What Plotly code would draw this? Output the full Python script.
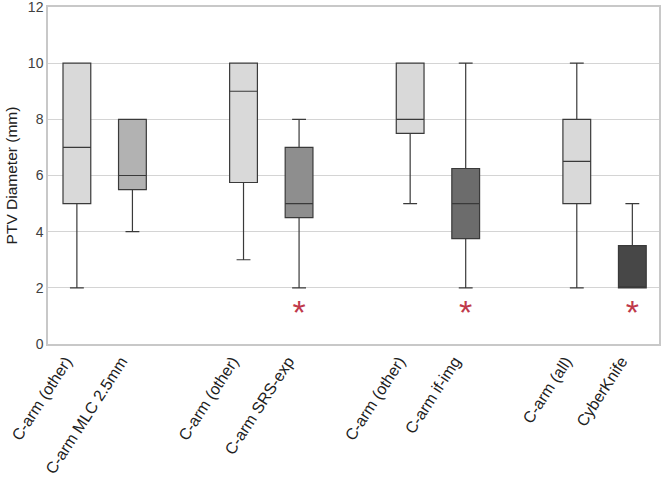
import plotly.graph_objects as go

categories = ["C-arm (other)", "C-arm MLC 2.5mm", "C-arm (other)", "C-arm SRS-exp",
              "C-arm (other)", "C-arm if-img", "C-arm (all)", "CyberKnife"]
positions = [0, 1, 3, 4, 6, 7, 9, 10]
lower = [2, 4, 3, 2, 5, 2, 2, 2]
q1 = [5, 5.5, 5.75, 4.5, 7.5, 3.75, 5, 2]
median = [7, 6, 9, 5, 8, 5, 6.5, 2]
q3 = [10, 8, 10, 7, 10, 6.25, 8, 3.5]
upper = [10, 8, 10, 8, 10, 10, 10, 5]
fills = ["#d9d9d9", "#b2b2b2", "#d9d9d9", "#8e8e8e", "#d9d9d9", "#6c6c6c", "#d9d9d9", "#474747"]
star_positions = [4, 7, 10]
star_y = [1.0, 1.0, 1.0]

fig = go.Figure()
for i in range(len(categories)):
    fig.add_trace(go.Box(
        x=[positions[i]], q1=[q1[i]], median=[median[i]], q3=[q3[i]],
        lowerfence=[lower[i]], upperfence=[upper[i]],
        fillcolor=fills[i], line=dict(color="#3a3a3a", width=1.2),
        width=0.5, whiskerwidth=0.5, showlegend=False, hoverinfo="skip",
    ))

fig.add_trace(go.Scatter(
    x=star_positions, y=star_y, mode="text", text=["*"] * len(star_positions),
    textfont=dict(color="#c0394b", size=34, family="Liberation Sans"),
    textposition="middle center", showlegend=False, hoverinfo="skip",
))

fig.update_layout(
    width=661, height=489,
    margin=dict(l=48, r=2, t=7, b=145, autoexpand=False),
    paper_bgcolor="white", plot_bgcolor="white",
    font=dict(family="Liberation Sans, Arial, sans-serif", color="#404040", size=12),
)
fig.update_xaxes(
    range=[-0.52, 10.48], tickmode="array", tickvals=positions, ticktext=categories,
    tickangle=-57, showgrid=False, zeroline=False, automargin=False,
    showline=True, linecolor="#c8c8c8", linewidth=1.5, mirror=True,
    tickfont=dict(size=16, color="#202020"), ticks="", ticklabelshift=-11,
)
fig.update_yaxes(
    range=[0, 12], tickvals=[0, 2, 4, 6, 8, 10, 12], showgrid=True, gridcolor="#d4d4d4",
    gridwidth=1, zeroline=False, showline=True, linecolor="#c8c8c8", linewidth=1.5,
    mirror=True, ticks="", tickfont=dict(size=14, color="#404040"), automargin=False,
    ticklabeloverflow="allow",
    title=dict(text="PTV Diameter (mm)", font=dict(size=15.5, color="#202020"), standoff=6),
)

fig.write_html("out.html", config={"displayModeBar": False},
               post_script="document.body.style.margin='0';")
